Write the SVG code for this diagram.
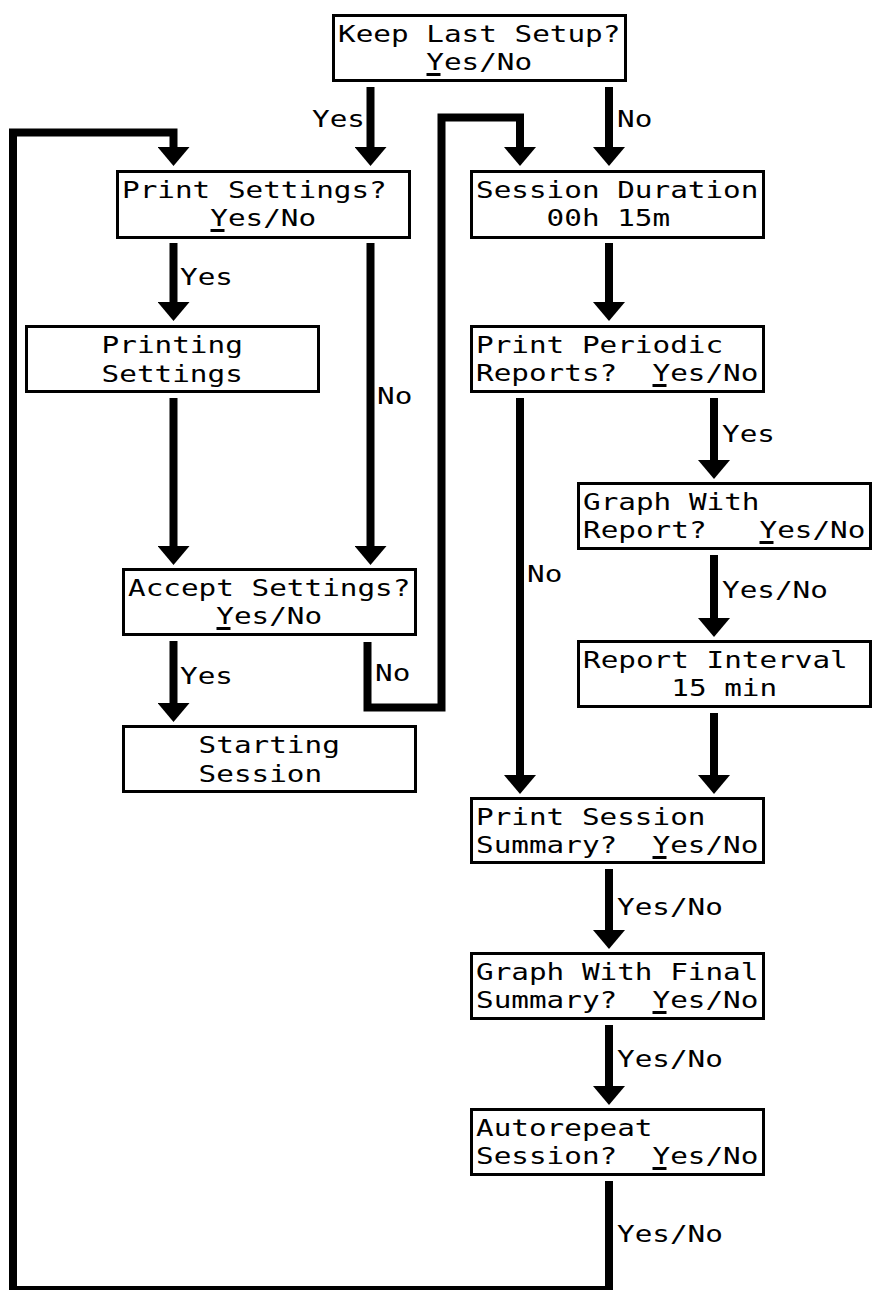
<svg xmlns="http://www.w3.org/2000/svg" width="873" height="1290" viewBox="0 0 873 1290">
<style>
  .box { fill: #ffffff; stroke: #000000; stroke-width: 3; }
  .t { font-family: "DejaVu Sans Mono", "Liberation Mono", monospace; font-size: 23px; fill: #000000; white-space: pre; }
  .ul { fill: #000000; }
  .c { fill: none; stroke: #000000; stroke-width: 8; stroke-linejoin: miter; stroke-linecap: butt; }
</style>
<defs>
  <marker id="ah" markerUnits="userSpaceOnUse" markerWidth="19" markerHeight="32" viewBox="0 0 19 32" refX="1" refY="16" orient="auto">
    <path d="M0,0 L19,16 L0,32 Z" fill="#000000"/>
  </marker>
</defs>
<rect width="873" height="1290" fill="#ffffff"/>

<g id="connectors">
  <path class="c" marker-end="url(#ah)" d="M370.5,87 V148"/>
  <path class="c" marker-end="url(#ah)" d="M609,87 V148"/>
  <path class="c" marker-end="url(#ah)" d="M609,1181 V1290 H13 V132.5 H173.5 V148"/>
  <path class="c" marker-end="url(#ah)" d="M367.5,642 V707.5 H441.5 V117.5 H520 V148"/>
  <path class="c" marker-end="url(#ah)" d="M173.5,243 V303"/>
  <path class="c" marker-end="url(#ah)" d="M370.5,243 V547"/>
  <path class="c" marker-end="url(#ah)" d="M173.5,398 V547"/>
  <path class="c" marker-end="url(#ah)" d="M173.5,641 V704"/>
  <path class="c" marker-end="url(#ah)" d="M609,243 V303"/>
  <path class="c" marker-end="url(#ah)" d="M520,398 V776"/>
  <path class="c" marker-end="url(#ah)" d="M714,398 V461"/>
  <path class="c" marker-end="url(#ah)" d="M714,555 V619"/>
  <path class="c" marker-end="url(#ah)" d="M714,713 V776"/>
  <path class="c" marker-end="url(#ah)" d="M609,869 V931"/>
  <path class="c" marker-end="url(#ah)" d="M609,1025 V1087"/>
  <text class="t" x="312" y="127" textLength="52.95" lengthAdjust="spacingAndGlyphs">Yes</text>
  <text class="t" x="617" y="127" textLength="35.3" lengthAdjust="spacingAndGlyphs">No</text>
  <text class="t" x="180" y="285" textLength="52.95" lengthAdjust="spacingAndGlyphs">Yes</text>
  <text class="t" x="377" y="404" textLength="35.3" lengthAdjust="spacingAndGlyphs">No</text>
  <text class="t" x="180" y="684" textLength="52.95" lengthAdjust="spacingAndGlyphs">Yes</text>
  <text class="t" x="375" y="681" textLength="35.3" lengthAdjust="spacingAndGlyphs">No</text>
  <text class="t" x="527" y="582" textLength="35.3" lengthAdjust="spacingAndGlyphs">No</text>
  <text class="t" x="722" y="442" textLength="52.95" lengthAdjust="spacingAndGlyphs">Yes</text>
  <text class="t" x="722" y="598" textLength="105.9" lengthAdjust="spacingAndGlyphs">Yes/No</text>
  <text class="t" x="617" y="915" textLength="105.9" lengthAdjust="spacingAndGlyphs">Yes/No</text>
  <text class="t" x="617" y="1067" textLength="105.9" lengthAdjust="spacingAndGlyphs">Yes/No</text>
  <text class="t" x="617" y="1242" textLength="105.9" lengthAdjust="spacingAndGlyphs">Yes/No</text>
</g>

<g id="keep-last-setup">
  <rect class="box" x="333.5" y="15.5" width="292" height="65"/>
  <text class="t" x="338" y="42" textLength="282.4" lengthAdjust="spacingAndGlyphs">Keep Last Setup?</text>
  <text class="t" x="426.25" y="70" textLength="105.9" lengthAdjust="spacingAndGlyphs">Yes/No</text>
  <rect class="ul" x="426.5" y="73" width="14" height="3"/>
</g>

<g id="print-settings">
  <rect class="box" x="117.5" y="171.5" width="292" height="66"/>
  <text class="t" x="122" y="198" textLength="264.75" lengthAdjust="spacingAndGlyphs">Print Settings?</text>
  <text class="t" x="210.25" y="226" textLength="105.9" lengthAdjust="spacingAndGlyphs">Yes/No</text>
  <rect class="ul" x="210.5" y="229" width="14" height="3"/>
</g>

<g id="session-duration">
  <rect class="box" x="471.5" y="171.5" width="292" height="66"/>
  <text class="t" x="476" y="198" textLength="282.4" lengthAdjust="spacingAndGlyphs">Session Duration</text>
  <text class="t" x="546.6" y="226" textLength="123.55" lengthAdjust="spacingAndGlyphs">00h 15m</text>
</g>

<g id="printing-settings">
  <rect class="box" x="26.5" y="326.5" width="292" height="65"/>
  <text class="t" x="101.6" y="353" textLength="141.2" lengthAdjust="spacingAndGlyphs">Printing</text>
  <text class="t" x="101.6" y="382" textLength="141.2" lengthAdjust="spacingAndGlyphs">Settings</text>
</g>

<g id="print-periodic-reports">
  <rect class="box" x="471.5" y="326.5" width="292" height="65"/>
  <text class="t" x="476" y="353" textLength="247.1" lengthAdjust="spacingAndGlyphs">Print Periodic</text>
  <text class="t" x="476" y="381" textLength="282.4" lengthAdjust="spacingAndGlyphs" xml:space="preserve">Reports?  Yes/No</text>
  <rect class="ul" x="652.5" y="384" width="14" height="3"/>
</g>

<g id="graph-with-report">
  <rect class="box" x="578.5" y="483.5" width="292" height="65"/>
  <text class="t" x="583" y="510" textLength="176.5" lengthAdjust="spacingAndGlyphs">Graph With</text>
  <text class="t" x="583" y="538" textLength="282.4" lengthAdjust="spacingAndGlyphs" xml:space="preserve">Report?   Yes/No</text>
  <rect class="ul" x="759.5" y="541" width="14" height="3"/>
</g>

<g id="accept-settings">
  <rect class="box" x="123.5" y="569.5" width="292" height="65"/>
  <text class="t" x="128" y="596" textLength="282.4" lengthAdjust="spacingAndGlyphs">Accept Settings?</text>
  <text class="t" x="216.25" y="624" textLength="105.9" lengthAdjust="spacingAndGlyphs">Yes/No</text>
  <rect class="ul" x="216.5" y="627" width="14" height="3"/>
</g>

<g id="report-interval">
  <rect class="box" x="578.5" y="641.5" width="292" height="65"/>
  <text class="t" x="583" y="668" textLength="264.75" lengthAdjust="spacingAndGlyphs">Report Interval</text>
  <text class="t" x="671.25" y="696" textLength="105.9" lengthAdjust="spacingAndGlyphs">15 min</text>
</g>

<g id="starting-session">
  <rect class="box" x="123.5" y="726.5" width="292" height="65"/>
  <text class="t" x="198.6" y="753" textLength="141.2" lengthAdjust="spacingAndGlyphs">Starting</text>
  <text class="t" x="198.6" y="782" textLength="123.55" lengthAdjust="spacingAndGlyphs">Session</text>
</g>

<g id="print-session-summary">
  <rect class="box" x="471.5" y="798.5" width="292" height="64"/>
  <text class="t" x="476" y="825" textLength="229.45" lengthAdjust="spacingAndGlyphs">Print Session</text>
  <text class="t" x="476" y="853" textLength="282.4" lengthAdjust="spacingAndGlyphs" xml:space="preserve">Summary?  Yes/No</text>
  <rect class="ul" x="652.5" y="856" width="14" height="3"/>
</g>

<g id="graph-with-final-summary">
  <rect class="box" x="471.5" y="953.5" width="292" height="65"/>
  <text class="t" x="476" y="980" textLength="282.4" lengthAdjust="spacingAndGlyphs">Graph With Final</text>
  <text class="t" x="476" y="1008" textLength="282.4" lengthAdjust="spacingAndGlyphs" xml:space="preserve">Summary?  Yes/No</text>
  <rect class="ul" x="652.5" y="1011" width="14" height="3"/>
</g>

<g id="autorepeat-session">
  <rect class="box" x="471.5" y="1109.5" width="292" height="65"/>
  <text class="t" x="476" y="1136" textLength="176.5" lengthAdjust="spacingAndGlyphs">Autorepeat</text>
  <text class="t" x="476" y="1164" textLength="282.4" lengthAdjust="spacingAndGlyphs" xml:space="preserve">Session?  Yes/No</text>
  <rect class="ul" x="652.5" y="1167" width="14" height="3"/>
</g>
</svg>
